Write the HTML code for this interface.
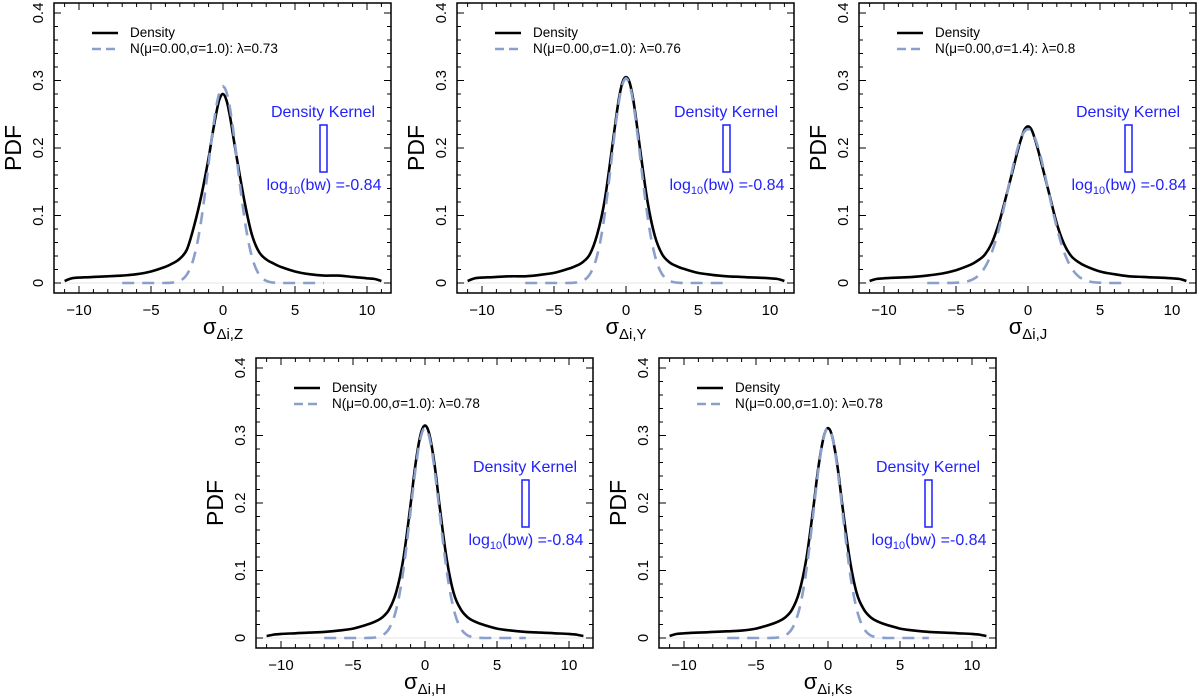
<!DOCTYPE html>
<html><head><meta charset="utf-8">
<style>
html,body{margin:0;padding:0;background:#fff;}
svg{display:block;font-family:"Liberation Sans",sans-serif;}
</style></head>
<body>
<svg id="fig" width="1200" height="696" viewBox="0 0 1200 696"></svg>
<script>
const NS="http://www.w3.org/2000/svg";
const xTicks=[-10,-5,0,5,10];
const yTicks=[0,0.1,0.2,0.3,0.4];
const yTickLabels=["0","0.1","0.2","0.3","0.4"];
const gridX=[-11,-10.5,-10,-9,-8,-7,-6,-5,-4,-3.5,-3,-2.5,-2,-1.5,-1,-0.75,-0.5,-0.25,0,0.25,0.5,0.75,1,1.5,2,2.5,3,3.5,4,5,6,7,8,9,10,10.5,11];
const densZ=[0.003,0.007,0.008,0.009,0.010,0.011,0.013,0.017,0.024,0.029,0.036,0.050,0.085,0.130,0.185,0.218,0.248,0.272,0.280,0.270,0.245,0.212,0.180,0.120,0.072,0.046,0.035,0.029,0.024,0.017,0.013,0.011,0.011,0.009,0.007,0.006,0.003];
const densY=[0.003,0.007,0.008,0.009,0.010,0.010,0.012,0.015,0.021,0.025,0.031,0.043,0.072,0.120,0.195,0.235,0.272,0.297,0.305,0.297,0.272,0.235,0.195,0.120,0.070,0.043,0.031,0.025,0.021,0.015,0.012,0.010,0.009,0.008,0.007,0.006,0.003];
const densJ=[0.003,0.006,0.007,0.008,0.009,0.011,0.014,0.019,0.027,0.033,0.042,0.060,0.090,0.130,0.172,0.193,0.212,0.227,0.232,0.227,0.212,0.193,0.172,0.130,0.088,0.058,0.040,0.031,0.025,0.017,0.013,0.010,0.009,0.008,0.007,0.006,0.003];
const densH=[0.003,0.005,0.006,0.007,0.008,0.009,0.011,0.014,0.020,0.024,0.030,0.042,0.068,0.118,0.198,0.243,0.280,0.306,0.315,0.306,0.280,0.243,0.198,0.118,0.066,0.042,0.030,0.024,0.020,0.014,0.011,0.009,0.008,0.007,0.006,0.005,0.003];
const densK=[0.003,0.006,0.007,0.008,0.009,0.010,0.011,0.014,0.020,0.024,0.030,0.042,0.068,0.118,0.196,0.240,0.276,0.302,0.311,0.302,0.276,0.240,0.196,0.118,0.066,0.042,0.030,0.024,0.020,0.014,0.011,0.009,0.008,0.007,0.006,0.005,0.003];
const panelNames=["Z","Y","J","H","Ks"];
const panelSigma=[1.0,1.0,1.4,1.0,1.0];
const panelLambda=[0.73,0.76,0.8,0.78,0.78];
const panelLambdaText=["0.73","0.76","0.8","0.78","0.78"];
const panelDens=[densZ,densY,densJ,densH,densK];
const panelPos=[[54,3],[457,3],[859,3],[256,358],[659,358]];
const W=337,H=290;

function mk(tag,attrs,parent){const e=document.createElementNS(NS,tag);for(const k in attrs)e.setAttribute(k,attrs[k]);parent.appendChild(e);return e;}
function smooth(pts){
  let d='M'+pts[0][0].toFixed(1)+','+pts[0][1].toFixed(1);
  for(let i=0;i<pts.length-1;i++){
    const p0=pts[Math.max(0,i-1)],p1=pts[i],p2=pts[i+1],p3=pts[Math.min(pts.length-1,i+2)];
    const c1x=p1[0]+(p2[0]-p0[0])/6,c1y=p1[1]+(p2[1]-p0[1])/6;
    const c2x=p2[0]-(p3[0]-p1[0])/6,c2y=p2[1]-(p3[1]-p1[1])/6;
    d+=` C${c1x.toFixed(1)},${c1y.toFixed(1)} ${c2x.toFixed(1)},${c2y.toFixed(1)} ${p2[0].toFixed(1)},${p2[1].toFixed(1)}`;
  }
  return d;
}
const svg=document.getElementById('fig');

panelNames.forEach((nm,i)=>{
  const [L,T]=panelPos[i];
  const g=mk('g',{transform:`translate(${L},${T})`},svg);
  
  
  const sx=v=>169+v*14.4;
  const sy=v=>280-v*675;
  const zl=mk('line',{x1:0,x2:W,y1:sy(0),y2:sy(0),stroke:'#e6e6e6','stroke-width':1},g);
  
  
  const d=panelDens[i];
  const dp=gridX.map((x,j)=>[sx(x),sy(d[j])]);
  const dl=mk('path',{d:smooth(dp),fill:'none',stroke:'#000','stroke-width':2.6,'stroke-linejoin':'round'},g);
  
  
  const gp=[];
  for(let x=-7;x<=7.001;x+=0.1){
    const s=panelSigma[i];
    const v=panelLambda[i]/(s*Math.sqrt(2*Math.PI))*Math.exp(-x*x/(2*s*s));
    gp.push(sx(x).toFixed(1)+','+sy(v).toFixed(1));
  }
  const gl=mk('polyline',{points:gp.join(' '),fill:'none',stroke:'#8a9fcc','stroke-width':2.6,'stroke-dasharray':'12,8'},g);
  
  
  const bx=mk('rect',{x:0,y:0,width:W,height:H,fill:'none',stroke:'#000','stroke-width':1.5},g);
  
  
  for(let x=-11;x<=11;x++){
    const len=(x%5===0)?7:4;
    mk('line',{x1:sx(x),x2:sx(x),y1:H,y2:H-len,stroke:'#000','stroke-width':1},g);
    mk('line',{x1:sx(x),x2:sx(x),y1:0,y2:len,stroke:'#000','stroke-width':1},g);
  }
  for(let k=0;k<=20;k++){
    const v=k*0.02;const len=(k%5===0)?7:4;
    mk('line',{x1:0,x2:len,y1:sy(v),y2:sy(v),stroke:'#000','stroke-width':1},g);
    mk('line',{x1:W,x2:W-len,y1:sy(v),y2:sy(v),stroke:'#000','stroke-width':1},g);
  }
  xTicks.forEach(x=>{
    const t=mk('text',{x:sx(x),y:H+22,'font-size':15,'text-anchor':'middle',fill:'#000'},g);
    t.textContent=(x<0?'\u2212'+(-x):String(x));
    
    
  });
  yTicks.forEach((v,k)=>{
    const t=mk('text',{x:0,y:0,'font-size':15,'text-anchor':'middle',fill:'#000',transform:`translate(${-11},${sy(v)}) rotate(-90)`},g);
    t.textContent=yTickLabels[k];
    
    
  });
  const yl=mk('text',{x:0,y:0,'font-size':23,'text-anchor':'middle',fill:'#000',transform:`translate(-33,${H/2}) rotate(-90)`},g);
  yl.textContent='PDF';
  
  
  const xl=mk('text',{x:sx(0),y:H+41,'font-size':22,'text-anchor':'middle',fill:'#000'},g);
  
  
  xl.innerHTML='σ<tspan font-size="15" dy="5">Δi,'+nm+'</tspan>';
  const lg=mk('g',{},g);
  
  
  mk('line',{x1:38,x2:64,y1:30,y2:30,stroke:'#000','stroke-width':2.6},lg);
  mk('line',{x1:38,x2:64,y1:46,y2:46,stroke:'#8a9fcc','stroke-width':2.6,'stroke-dasharray':'9,5'},lg);
  const t1=mk('text',{x:76,y:34,'font-size':13.5,fill:'#000'},lg);t1.textContent='Density';
  
  
  const t2=mk('text',{x:76,y:50,'font-size':13.5,fill:'#000'},lg);
  t2.textContent='N(μ=0.00,σ='+panelSigma[i].toFixed(1)+'): λ='+panelLambdaText[i];
  
  
  const kt=mk('text',{x:269,y:114,'font-size':16,'text-anchor':'middle',fill:'#1f1fff'},g);
  kt.textContent='Density Kernel';
  
  
  const kr=mk('rect',{x:266,y:122,width:7,height:47,fill:'none',stroke:'#1f1fff','stroke-width':1.5},g);
  
  
  const bw=mk('text',{x:270,y:187,'font-size':16,'text-anchor':'middle',fill:'#1f1fff'},g);
  bw.innerHTML='log<tspan font-size="11" dy="4">10</tspan><tspan dy="-4">(bw) =-0.84</tspan>';
  
  
});
</script>
</body></html>
